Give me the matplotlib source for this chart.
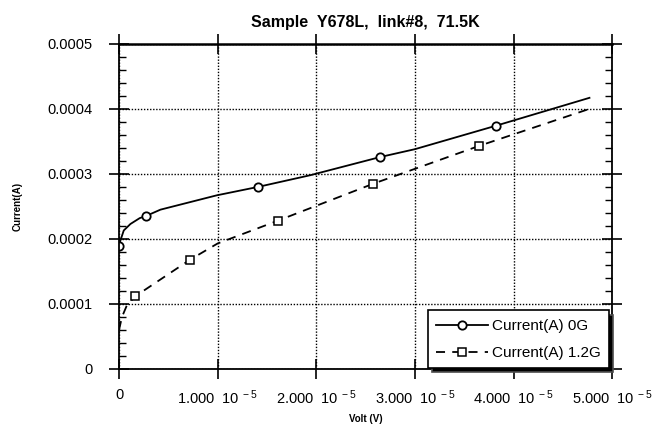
import matplotlib
matplotlib.use("Agg")
import matplotlib.pyplot as plt
from matplotlib.ticker import MultipleLocator, FixedLocator

plt.rcParams['font.family'] = ['Liberation Sans', 'DejaVu Sans']
plt.rcParams['mathtext.fontset'] = 'custom'
plt.rcParams['mathtext.rm'] = 'Liberation Sans'
plt.rcParams['mathtext.it'] = 'Liberation Sans'

volt_0g = [0.0, 0.15e-6, 0.48e-6, 1.16e-6, 2.1e-6, 2.7e-6, 4.2e-6, 9.9e-6,
           1.41e-5, 1.94e-5, 2.65e-5, 3.0e-5, 3.82e-5, 4.77e-5]
cur_0g = [1.89e-4, 1.98e-4, 2.13e-4, 2.23e-4, 2.32e-4, 2.35e-4, 2.45e-4, 2.67e-4,
          2.80e-4, 2.98e-4, 3.26e-4, 3.38e-4, 3.74e-4, 4.17e-4]
marks_0g = [0, 5, 8, 10, 12]

volt_12g = [0.0, 0.3e-6, 0.8e-6, 1.67e-6, 7.2e-6, 1.0e-5, 1.61e-5,
            2.58e-5, 3.65e-5, 4.77e-5]
cur_12g = [0.6e-4, 0.8e-4, 0.98e-4, 1.12e-4, 1.68e-4, 1.93e-4, 2.28e-4,
           2.85e-4, 3.43e-4, 4.0e-4]
marks_12g = [3, 4, 6, 7, 8]

xticks = [0, 1e-5, 2e-5, 3e-5, 4e-5, 5e-5]
xlabels = ['0', r'1.000  $10^{\ -5}$', r'2.000  $10^{\ -5}$', r'3.000  $10^{\ -5}$',
           r'4.000  $10^{\ -5}$', r'5.000  $10^{\ -5}$']
yticks = [0, 0.0001, 0.0002, 0.0003, 0.0004, 0.0005]
ylabels = ['0', '0.0001', '0.0002', '0.0003', '0.0004', '0.0005']

fig = plt.figure(figsize=(6.54, 4.30), dpi=100)
ax = fig.add_axes([0.182, 0.142, 0.754, 0.756])

ax.plot(volt_0g, cur_0g, color='black', lw=1.3, marker='o', ms=6, mfc='white',
        mec='black', mew=1.3, markevery=marks_0g, label='Current(A) 0G')
ax.plot(volt_12g, cur_12g, color='black', lw=1.3, ls=(0, (5, 4)), marker='s', ms=5.5,
        mfc='white', mec='black', mew=1.1, markevery=marks_12g, label='Current(A) 1.2G')

ax.set_xlim(0, 5e-5)
ax.set_ylim(0, 0.0005)
ax.xaxis.set_major_locator(FixedLocator(xticks))
ax.set_xticklabels(xlabels)
ax.yaxis.set_major_locator(FixedLocator(yticks))
ax.set_yticklabels(ylabels)
ax.yaxis.set_minor_locator(MultipleLocator(0.00002))

ax.grid(True, which='major', color='black', ls=(0, (1, 1.2)), lw=1.0)
ax.tick_params(which='major', direction='inout', length=14, width=1.2, top=True, right=True,
               labelsize=10.5)
ax.tick_params(axis='y', pad=12)
ax.tick_params(axis='x', pad=7)
ax.tick_params(which='minor', direction='in', length=5, width=1, left=True, right=True)
for s in ax.spines.values():
    s.set_linewidth(1.3)
ax.spines['top'].set_linewidth(1.8)

ax.set_title('Sample  Y678L,  link#8,  71.5K', fontsize=11.5, fontweight='bold', pad=12)
ax.set_xlabel('Volt (V)', fontsize=7, fontweight='bold', labelpad=5)
ax.set_ylabel('Current(A)', fontsize=7, fontweight='bold', labelpad=18)

leg = ax.legend(loc='lower right', bbox_to_anchor=(0.994, 0.002), fontsize=11,
                frameon=True, fancybox=False, handlelength=3.4, handletextpad=0.25,
                borderpad=0.55, labelspacing=0.85, borderaxespad=0.0,
                shadow={'ox': 3, 'oy': -3, 'facecolor': 'black', 'alpha': 1})
leg.get_frame().set_edgecolor('black')
leg.get_frame().set_linewidth(1.2)
leg.get_frame().set_alpha(1)

fig.savefig('out.png', dpi=100)
